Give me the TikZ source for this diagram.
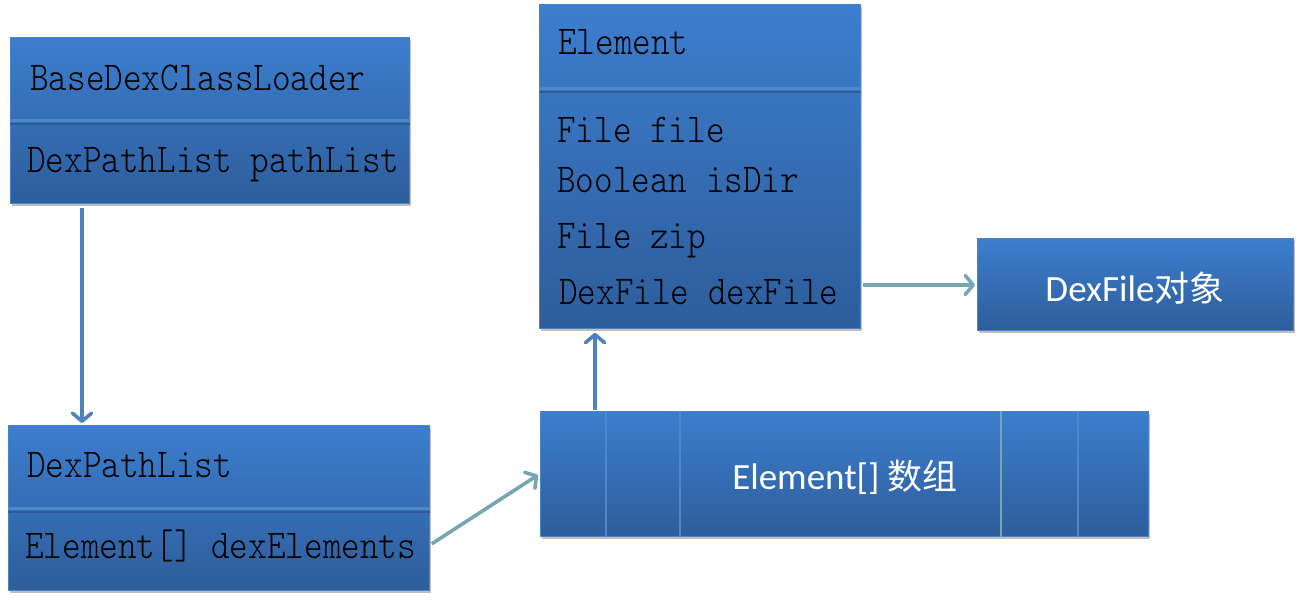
\documentclass[tikz,border=0pt]{standalone}
\usepackage{fontspec}
\usetikzlibrary{arrows.meta,shadows,calc}
\newfontfamily\umlfont{lmmonolt10-regular.otf}[FakeStretch=0.865]
\newfontfamily\carl{Carlito}
\newfontfamily\cjk{Noto Sans CJK SC}
\definecolor{boxtop}{HTML}{3C7ECE}
\definecolor{boxbot}{HTML}{2E5D9B}
\definecolor{boxedge}{HTML}{4A84C8}
\definecolor{divlight}{HTML}{4D88CF}
\definecolor{divdark}{HTML}{2F5C96}
\definecolor{arrblue}{HTML}{4F81BD}
\definecolor{arrteal}{HTML}{76A5B4}
\begin{document}
\begin{tikzpicture}[x=1pt,y=-1pt,
  umlbox/.style={rectangle, inner sep=0pt, anchor=north west,
    top color=boxtop, bottom color=boxbot, draw=boxedge, line width=0.8pt,
    drop shadow={shadow xshift=1.5pt, shadow yshift=-3pt, opacity=0.25, fill=black}},
  uml/.style={anchor=base west, inner sep=0pt, text=black,
    font=\umlfont\fontsize{41}{41}\selectfont},
  sanslbl/.style={inner sep=0pt, text=white, font=\fontsize{37}{37}\selectfont},
  lightline/.style={draw=divlight, line width=3pt},
  darkline/.style={draw=divdark, line width=2pt},
  celline/.style={draw=divlight, line width=2.2pt},
  arr/.style={line width=3.6pt, -{Straight Barb[length=8pt,width=19pt,line join=round,line cap=round]}},
]
\useasboundingbox (0,0) rectangle (1301,602);

% boxes
\node[umlbox, minimum width=399pt, minimum height=166pt] (A) at (10,37) {};
\node[umlbox, minimum width=421pt, minimum height=165pt] (B) at (8,425) {};
\node[umlbox, minimum width=321pt, minimum height=324pt] (C) at (539,4) {};
\node[umlbox, minimum width=608pt, minimum height=125pt] (D) at (540,411) {};
\node[umlbox, minimum width=316pt, minimum height=92pt] (E) at (977,238) {};

% compartment dividers
\draw[lightline] ($(A.north west)+(0,83)$) -- ($(A.north east)+(0,83)$);
\draw[darkline] ($(A.north west)+(0,86.5)$) -- ($(A.north east)+(0,86.5)$);
\draw[lightline] ($(B.north west)+(0,83)$) -- ($(B.north east)+(0,83)$);
\draw[darkline] ($(B.north west)+(0,86.5)$) -- ($(B.north east)+(0,86.5)$);
\draw[lightline] ($(C.north west)+(0,84)$) -- ($(C.north east)+(0,84)$);
\draw[darkline] ($(C.north west)+(0,87.5)$) -- ($(C.north east)+(0,87.5)$);

% array cells
\draw[celline] ($(D.north west)+(66,0)$) -- ($(D.south west)+(66,0)$);
\draw[celline] ($(D.north west)+(140,0)$) -- ($(D.south west)+(140,0)$);
\draw[celline, draw=arrteal] ($(D.north west)+(461,0)$) -- ($(D.south west)+(461,0)$);
\draw[celline] ($(D.north west)+(538,0)$) -- ($(D.south west)+(538,0)$);

% texts
\node[uml] (a1) at (30,90) {BaseDexClassLoader};
\node[uml] (a2) at (27,172) {DexPathList pathList};
\node[uml] (b1) at (27,477) {DexPathList};
\node[uml] (b2) at (25,558) {Element[] dexElements};
\node[uml] (c1) at (558,55) {Element};
\node[uml] (c2) at (557,142) {File file};
\node[uml] (c3) at (557,192) {Boolean isDir};
\node[uml] (c4) at (557,248) {File zip};
\node[uml] (c5) at (559,304) {DexFile dexFile};
\node[sanslbl] (dl) at (845,477) {{\carl Element[] }{\cjk\fontsize{35}{35}\selectfont 数组}};
\node[sanslbl] (el) at (1135,288) {{\carl DexFile}{\cjk\fontsize{35}{35}\selectfont 对象}};

% connectors
\draw[arr, draw=arrblue] ([xshift=72pt,yshift=-4pt]A.south west) -- ([xshift=74pt,yshift=2pt]B.north west);
\draw[arr, draw=arrteal] ($(B.south east)+(2,-47)$) -- ($(D.north west)+(-2,64)$);
\draw[arr, draw=arrblue] ($(D.north west)+(55,-1)$) -- ($(C.south west)+(56,4)$);
\draw[arr, draw=arrteal] ($(C.north east)+(2,281)$) -- ($(E.north west)+(-2,47)$);
\end{tikzpicture}
\end{document}
